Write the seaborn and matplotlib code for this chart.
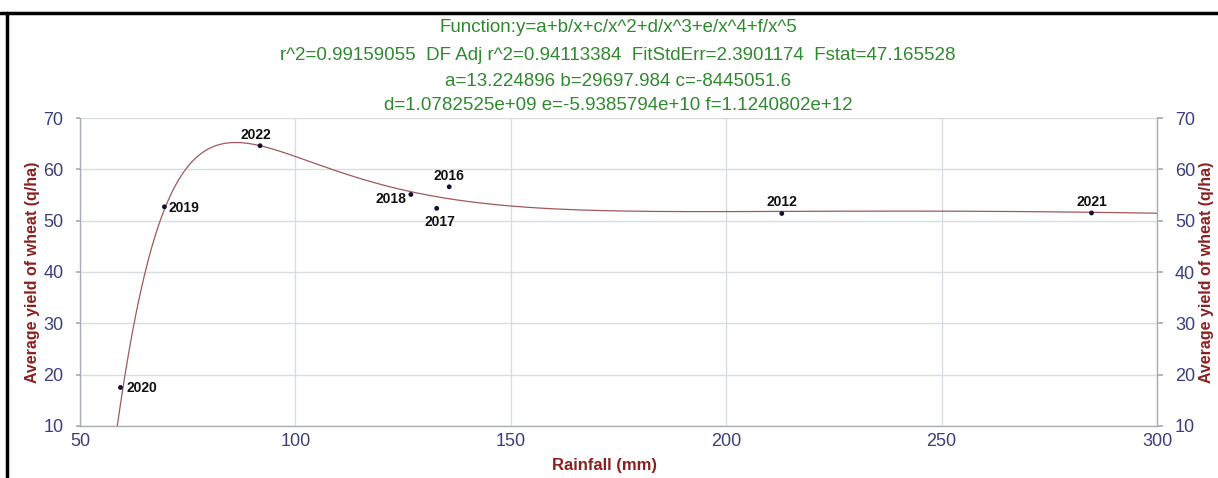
import numpy as np
import pandas as pd
import matplotlib
matplotlib.use("Agg")
import matplotlib.pyplot as plt
import seaborn as sns

# ---- data ----
years = ["2020", "2019", "2022", "2018", "2017", "2016", "2012", "2021"]
rainfall = [59.4, 69.6, 91.8, 126.8, 132.8, 135.7, 212.9, 284.8]
yield_q = [17.5, 52.7, 64.6, 55.1, 52.4, 56.6, 51.4, 51.5]

# fitted-function coefficients as printed on the chart
coef_a = 13.224896
coef_b = 29697.984
coef_c = -8445051.6
coef_d = 1.0782525e+09
coef_e = -5.9385794e+10
coef_f = 1.1240802e+12

title_lines = [
    "Function:y=a+b/x+c/x^2+d/x^3+e/x^4+f/x^5",
    "r^2=0.99159055  DF Adj r^2=0.94113384  FitStdErr=2.3901174  Fstat=47.165528",
    "a=13.224896 b=29697.984 c=-8445051.6",
    "d=1.0782525e+09 e=-5.9385794e+10 f=1.1240802e+12",
]
x_ticks = [50, 100, 150, 200, 250, 300]
y_ticks = [10, 20, 30, 40, 50, 60, 70]

sns.set_theme(style="white")
plt.rcParams["font.family"] = ["Liberation Sans", "DejaVu Sans"]

df = pd.DataFrame({"year": years, "rain": rainfall, "yield": yield_q})

xs = np.linspace(58.5, 300, 800)
fit = (coef_a + coef_b / xs + coef_c / xs**2 + coef_d / xs**3
       + coef_e / xs**4 + coef_f / xs**5)
fit_df = pd.DataFrame({"rain": xs, "yield": fit})

fig = plt.figure(figsize=(12.18, 4.78), dpi=100)
ax = fig.add_axes([80 / 1218, 1 - 426 / 478, (1157 - 80) / 1218, (426 - 118) / 478])

tick_col = "#3b3f7e"
lab_col = "#8b2020"
grid_col = "#d9dde3"
spine_col = "#a9adb5"

ax.set_xlim(50, 300)
ax.set_ylim(10, 70)
ax.set_xticks(x_ticks)
ax.set_yticks(y_ticks)
ax.grid(True, color=grid_col, linewidth=1.0)
ax.set_axisbelow(True)

sns.lineplot(data=fit_df, x="rain", y="yield", ax=ax, color="#a0595c",
             linewidth=0.9, estimator=None, sort=False)
sns.scatterplot(data=df, x="rain", y="yield", ax=ax, color="#111133",
                s=12, edgecolor="none", zorder=5)

# labels for points (offsets in points)
offsets = {
    "2020": (4, 0, "left", "center"),
    "2019": (3, -1, "left", "center"),
    "2022": (-3, 3, "center", "bottom"),
    "2018": (-3, -3, "right", "center"),
    "2017": (2, -5, "center", "top"),
    "2016": (0, 3, "center", "bottom"),
    "2012": (0, 3, "center", "bottom"),
    "2021": (0, 3, "center", "bottom"),
}
for yr, xv, yv in zip(years, rainfall, yield_q):
    dx, dy, ha, va = offsets[yr]
    ax.annotate(yr, (xv, yv), xytext=(dx, dy), textcoords="offset points",
                ha=ha, va=va, fontsize=10, fontweight="bold", color="#111111")

for side in ["left", "bottom", "right"]:
    ax.spines[side].set_visible(True)
    ax.spines[side].set_color(spine_col)
    ax.spines[side].set_linewidth(1.0)
ax.spines["top"].set_visible(False)

ax.tick_params(axis="y", colors=tick_col, labelsize=13, length=3,
               color=spine_col, pad=9)
ax.tick_params(axis="x", colors=tick_col, labelsize=13, length=0, pad=5)
ax.set_xlabel("Rainfall (mm)", color=lab_col, fontsize=12, fontweight="bold")
ax.xaxis.set_label_coords(0.487, -0.105)
ax.set_ylabel("Average yield of wheat (q/ha)", color=lab_col, fontsize=11.5,
              fontweight="bold", labelpad=2)

ax2 = ax.twinx()
ax2.set_ylim(10, 70)
ax2.set_yticks(y_ticks)
ax2.tick_params(axis="y", colors=tick_col, labelsize=13, length=4,
                color=spine_col, pad=9)
for s in ax2.spines.values():
    s.set_visible(False)
ax2.set_ylabel("Average yield of wheat (q/ha)", color=lab_col, fontsize=11.5,
               fontweight="bold", labelpad=3)

title_y = [28, 56, 81, 105]
for line, py in zip(title_lines, title_y):
    fig.text(618 / 1218, 1 - py / 478, line, ha="center", va="center",
             color="#2f8a2f", fontsize=13.5)

# black frame lines (top and left)
fig.add_artist(plt.Line2D([0, 1], [1 - 12.5 / 478] * 2, color="black",
                          linewidth=2.5, transform=fig.transFigure))
fig.add_artist(plt.Line2D([7 / 1218] * 2, [0, 1 - 12.5 / 478], color="black",
                          linewidth=2.5, transform=fig.transFigure))

fig.savefig("out.png", dpi=100, facecolor="white")
